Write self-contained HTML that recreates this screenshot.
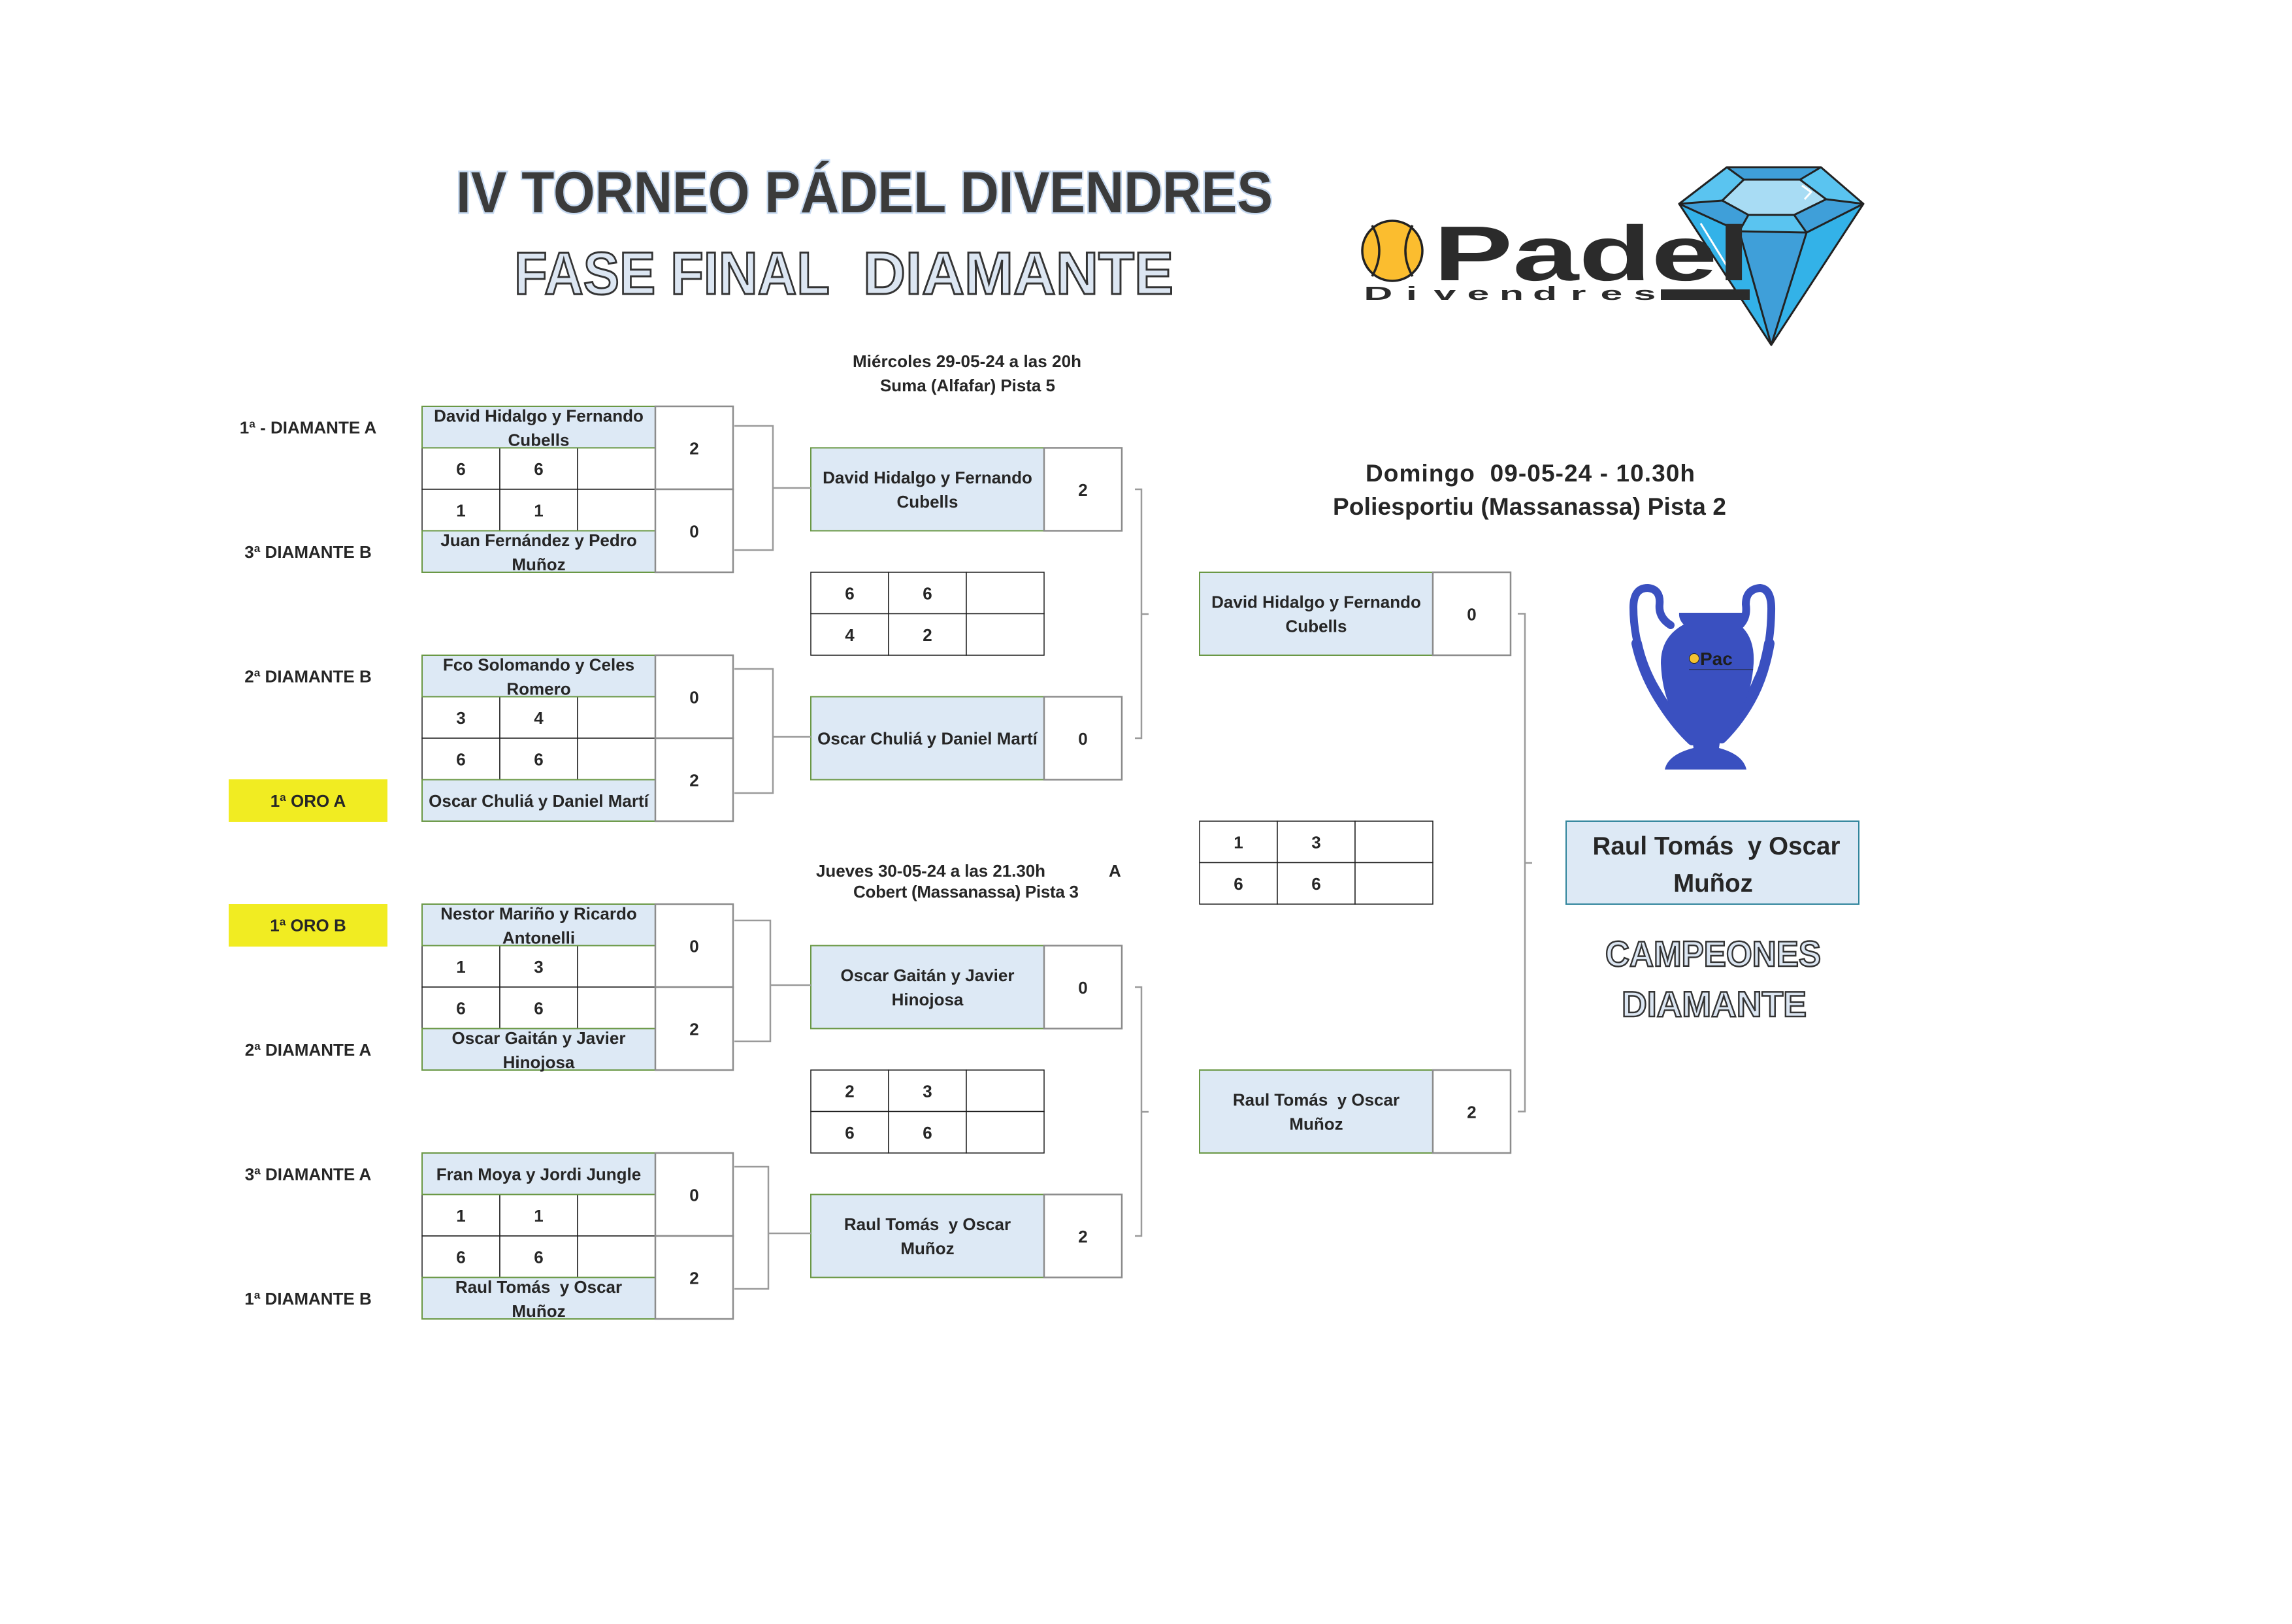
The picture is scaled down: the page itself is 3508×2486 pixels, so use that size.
<!DOCTYPE html>
<html>
<head>
<meta charset="utf-8">
<style>
html,body{margin:0;padding:0;background:#fff;}
body{width:3508px;height:2481px;overflow:hidden;}
svg text{font-family:"Liberation Sans",Arial,sans-serif;font-weight:700;font-size:26px;fill:#262626;}
svg text.c{text-anchor:middle;}
.nm{fill:#dde9f5;stroke:#6a9845;stroke-width:2;}
.st{fill:#fff;stroke:#1f1f1f;stroke-width:1.5;}
.sc{fill:#fff;stroke:#8c8c8c;stroke-width:2.5;}
.ln{fill:none;stroke:#9a9a9a;stroke-width:2.5;}
</style>
</head>
<body>
<svg width="3508" height="2481" viewBox="0 0 3508 2481" xmlns="http://www.w3.org/2000/svg">
<rect x="0" y="0" width="3508" height="2481" fill="#fff"/>

<!-- TITLES -->
<text x="698" y="325" textLength="1250" lengthAdjust="spacingAndGlyphs" style="font-size:89px;fill:#3b3b3b;stroke:#c6d9f0;stroke-width:5;paint-order:stroke;">IV TORNEO PÁDEL DIVENDRES</text>
<text x="787" y="450" textLength="483" lengthAdjust="spacingAndGlyphs" style="font-size:92px;fill:#dce6f2;stroke:#333;stroke-width:3;">FASE FINAL</text>
<text x="1321" y="450" textLength="475" lengthAdjust="spacingAndGlyphs" style="font-size:92px;fill:#dce6f2;stroke:#333;stroke-width:3;">DIAMANTE</text>

<!-- LOGO: diamond -->
<g stroke-linejoin="round">
<polygon points="2643,256 2787,256 2852,312 2711,528 2570,312" fill="#33b2e8"/>
<polygon points="2643,256 2787,256 2852,312 2765,356 2662,354 2570,312" fill="#5ac4f0"/>
<polygon points="2647,258 2783,258 2755,275 2669,275" fill="#3f9fd9"/>
<polygon points="2570,312 2636,307 2676,329 2662,354" fill="#3f9fd9"/>
<polygon points="2852,312 2795,305 2746,329 2765,356" fill="#3f9fd9"/>
<polygon points="2662,354 2765,356 2711,528" fill="#3f9fd9"/>
<polygon points="2669,275 2755,275 2795,305 2746,329 2676,329 2636,307" fill="#a8dcf4" stroke="#222" stroke-width="3"/>
<line x1="2603" y1="342" x2="2649" y2="417" stroke="#fff" stroke-width="3"/>
<polyline points="2758,284 2772,294 2762,305" fill="none" stroke="#fff" stroke-width="3"/>
<g fill="none" stroke="#222" stroke-width="3">
<polygon points="2643,256 2787,256 2852,312 2711,528 2570,312"/>
<line x1="2669" y1="275" x2="2643" y2="256"/>
<line x1="2755" y1="275" x2="2787" y2="256"/>
<line x1="2795" y1="305" x2="2852" y2="312"/>
<line x1="2636" y1="307" x2="2570" y2="312"/>
<line x1="2676" y1="329" x2="2662" y2="354"/>
<line x1="2746" y1="329" x2="2765" y2="356"/>
<polyline points="2570,312 2662,354 2765,356 2852,312"/>
<line x1="2662" y1="354" x2="2711" y2="528"/>
<line x1="2765" y1="356" x2="2711" y2="528"/>
</g>
</g>
<!-- LOGO: ball + text -->
<ellipse cx="2131" cy="384" rx="46" ry="46" fill="#fbbd2f" stroke="#222" stroke-width="3.5"/>
<path d="M2100 345 Q2122 384 2100 423" fill="none" stroke="#222" stroke-width="3.5"/>
<path d="M2162 345 Q2140 384 2162 423" fill="none" stroke="#222" stroke-width="3.5"/>
<text x="2194" y="429" textLength="485" lengthAdjust="spacingAndGlyphs" style="font-size:119px;fill:#2b2b2b;">Padel</text>
<g transform="translate(2084,459) scale(2.1,1)">
<text x="12.1 36.4 60.7 85 109.3 133.6 157.9 182.1 206.4" y="0" style="font-size:29px;font-weight:700;fill:#2b2b2b;text-anchor:middle;">Divendres</text>
</g>
<rect x="2542" y="443" width="136" height="16" fill="#2b2b2b"/>

<!-- LEFT LABELS -->
<rect x="350" y="1193" width="243" height="65" fill="#f1ec22"/>
<rect x="350" y="1384" width="243" height="65" fill="#f1ec22"/>
<text class="c" x="471.5" y="663.25">1ª - DIAMANTE A</text>
<text class="c" x="471.5" y="853.75">3ª DIAMANTE B</text>
<text class="c" x="471.5" y="1044.25">2ª DIAMANTE B</text>
<text class="c" x="471.5" y="1234.75">1ª ORO A</text>
<text class="c" x="471.5" y="1425.25">1ª ORO B</text>
<text class="c" x="471.5" y="1615.75">2ª DIAMANTE A</text>
<text class="c" x="471.5" y="1806.25">3ª DIAMANTE A</text>
<text class="c" x="471.5" y="1996.75">1ª DIAMANTE B</text>

<!-- ROUND 1 : set cells -->
<g class="st">
<rect x="646" y="685.5" width="119" height="63.5"/><rect x="765" y="685.5" width="119" height="63.5"/><rect x="884" y="685.5" width="119" height="63.5"/>
<rect x="646" y="749" width="119" height="63.5"/><rect x="765" y="749" width="119" height="63.5"/><rect x="884" y="749" width="119" height="63.5"/>
<rect x="646" y="1066.5" width="119" height="63.5"/><rect x="765" y="1066.5" width="119" height="63.5"/><rect x="884" y="1066.5" width="119" height="63.5"/>
<rect x="646" y="1130" width="119" height="63.5"/><rect x="765" y="1130" width="119" height="63.5"/><rect x="884" y="1130" width="119" height="63.5"/>
<rect x="646" y="1447.5" width="119" height="63.5"/><rect x="765" y="1447.5" width="119" height="63.5"/><rect x="884" y="1447.5" width="119" height="63.5"/>
<rect x="646" y="1511" width="119" height="63.5"/><rect x="765" y="1511" width="119" height="63.5"/><rect x="884" y="1511" width="119" height="63.5"/>
<rect x="646" y="1828.5" width="119" height="63.5"/><rect x="765" y="1828.5" width="119" height="63.5"/><rect x="884" y="1828.5" width="119" height="63.5"/>
<rect x="646" y="1892" width="119" height="63.5"/><rect x="765" y="1892" width="119" height="63.5"/><rect x="884" y="1892" width="119" height="63.5"/>
<!-- SF sets -->
<rect x="1241" y="876" width="119" height="63.5"/><rect x="1360" y="876" width="119" height="63.5"/><rect x="1479" y="876" width="119" height="63.5"/>
<rect x="1241" y="939.5" width="119" height="63.5"/><rect x="1360" y="939.5" width="119" height="63.5"/><rect x="1479" y="939.5" width="119" height="63.5"/>
<rect x="1241" y="1638" width="119" height="63.5"/><rect x="1360" y="1638" width="119" height="63.5"/><rect x="1479" y="1638" width="119" height="63.5"/>
<rect x="1241" y="1701.5" width="119" height="63.5"/><rect x="1360" y="1701.5" width="119" height="63.5"/><rect x="1479" y="1701.5" width="119" height="63.5"/>
<!-- Final sets -->
<rect x="1836" y="1257" width="119" height="63.5"/><rect x="1955" y="1257" width="119" height="63.5"/><rect x="2074" y="1257" width="119" height="63.5"/>
<rect x="1836" y="1320.5" width="119" height="63.5"/><rect x="1955" y="1320.5" width="119" height="63.5"/><rect x="2074" y="1320.5" width="119" height="63.5"/>
</g>

<!-- name cells -->
<g class="nm">
<rect x="646" y="622" width="357" height="63.5"/><rect x="646" y="812.5" width="357" height="63.5"/>
<rect x="646" y="1003" width="357" height="63.5"/><rect x="646" y="1193.5" width="357" height="63.5"/>
<rect x="646" y="1384" width="357" height="63.5"/><rect x="646" y="1574.5" width="357" height="63.5"/>
<rect x="646" y="1765" width="357" height="63.5"/><rect x="646" y="1955.5" width="357" height="63.5"/>
<rect x="1241" y="685.5" width="357" height="127"/><rect x="1241" y="1066.5" width="357" height="127"/>
<rect x="1241" y="1447.5" width="357" height="127"/><rect x="1241" y="1828.5" width="357" height="127"/>
<rect x="1836" y="876" width="357" height="127"/><rect x="1836" y="1638" width="357" height="127"/>
</g>
<rect x="2397" y="1257" width="448" height="127" fill="#dde9f5" stroke="#31859c" stroke-width="2"/>

<!-- score boxes -->
<g class="sc">
<rect x="1003" y="622" width="119" height="127"/><rect x="1003" y="749" width="119" height="127"/>
<rect x="1003" y="1003" width="119" height="127"/><rect x="1003" y="1130" width="119" height="127"/>
<rect x="1003" y="1384" width="119" height="127"/><rect x="1003" y="1511" width="119" height="127"/>
<rect x="1003" y="1765" width="119" height="127"/><rect x="1003" y="1892" width="119" height="127"/>
<rect x="1598" y="685.5" width="119" height="127"/><rect x="1598" y="1066.5" width="119" height="127"/>
<rect x="1598" y="1447.5" width="119" height="127"/><rect x="1598" y="1828.5" width="119" height="127"/>
<rect x="2193" y="876" width="119" height="127"/><rect x="2193" y="1638" width="119" height="127"/>
</g>

<!-- connectors -->
<g class="ln">
<path d="M1124 652 H1183 V842 H1124 M1183 747 H1241"/>
<path d="M1124 1024 H1183 V1214 H1124 M1183 1128 H1241"/>
<path d="M1124 1409 H1179 V1594 H1124 M1179 1508 H1241"/>
<path d="M1124 1786 H1176 V1973 H1124 M1176 1888 H1241"/>
<path d="M1737 749 H1747 V1130 H1737 M1747 940 H1758"/>
<path d="M1737 1511 H1747 V1892 H1737 M1747 1702 H1758"/>
<path d="M2323 939.5 H2334 V1701.5 H2323 M2334 1321 H2345"/>
</g>

<!-- ROUND 1 TEXT -->
<!-- M1 -->
<text class="c" x="824.5" y="645.25">David Hidalgo y Fernando</text>
<text class="c" x="824.5" y="682.25">Cubells</text>
<text class="c" x="705.5" y="726.75">6</text><text class="c" x="824.5" y="726.75">6</text>
<text class="c" x="705.5" y="790.25">1</text><text class="c" x="824.5" y="790.25">1</text>
<text class="c" x="824.5" y="835.75">Juan Fernández y Pedro</text>
<text class="c" x="824.5" y="872.75">Muñoz</text>
<text class="c" x="1062.5" y="695.5">2</text>
<text class="c" x="1062.5" y="822.5">0</text>
<!-- M2 -->
<text class="c" x="824.5" y="1026.25">Fco Solomando y Celes</text>
<text class="c" x="824.5" y="1063.25">Romero</text>
<text class="c" x="705.5" y="1107.75">3</text><text class="c" x="824.5" y="1107.75">4</text>
<text class="c" x="705.5" y="1171.25">6</text><text class="c" x="824.5" y="1171.25">6</text>
<text class="c" x="824.5" y="1234.75">Oscar Chuliá y Daniel Martí</text>
<text class="c" x="1062.5" y="1076.5">0</text>
<text class="c" x="1062.5" y="1203.5">2</text>
<!-- M3 -->
<text class="c" x="824.5" y="1407.25">Nestor Mariño y Ricardo</text>
<text class="c" x="824.5" y="1444.25">Antonelli</text>
<text class="c" x="705.5" y="1488.75">1</text><text class="c" x="824.5" y="1488.75">3</text>
<text class="c" x="705.5" y="1552.25">6</text><text class="c" x="824.5" y="1552.25">6</text>
<text class="c" x="824.5" y="1597.75">Oscar Gaitán y Javier</text>
<text class="c" x="824.5" y="1634.75">Hinojosa</text>
<text class="c" x="1062.5" y="1457.5">0</text>
<text class="c" x="1062.5" y="1584.5">2</text>
<!-- M4 -->
<text class="c" x="824.5" y="1806.25">Fran Moya y Jordi Jungle</text>
<text class="c" x="705.5" y="1869.75">1</text><text class="c" x="824.5" y="1869.75">1</text>
<text class="c" x="705.5" y="1933.25">6</text><text class="c" x="824.5" y="1933.25">6</text>
<text class="c" x="824.5" y="1978.75">Raul Tomás&#160; y Oscar</text>
<text class="c" x="824.5" y="2015.75">Muñoz</text>
<text class="c" x="1062.5" y="1838.5">0</text>
<text class="c" x="1062.5" y="1965.5">2</text>

<!-- SEMIFINAL HEADERS -->
<text class="c" x="1480" y="562" textLength="350">Miércoles 29-05-24 a las 20h</text>
<text class="c" x="1481" y="599" textLength="268">Suma (Alfafar) Pista 5</text>
<text x="1249" y="1342" textLength="351">Jueves 30-05-24 a las 21.30h</text>
<text x="1697" y="1342">A</text>
<text class="c" x="1478.5" y="1374" textLength="345">Cobert (Massanassa) Pista 3</text>

<!-- SF1 -->
<text class="c" x="1419.5" y="740">David Hidalgo y Fernando</text>
<text class="c" x="1419.5" y="777">Cubells</text>
<text class="c" x="1657.5" y="759">2</text>
<text class="c" x="1300.5" y="917.25">6</text><text class="c" x="1419.5" y="917.25">6</text>
<text class="c" x="1300.5" y="980.75">4</text><text class="c" x="1419.5" y="980.75">2</text>
<text class="c" x="1419.5" y="1139.5">Oscar Chuliá y Daniel Martí</text>
<text class="c" x="1657.5" y="1140">0</text>
<!-- SF2 -->
<text class="c" x="1419.5" y="1502">Oscar Gaitán y Javier</text>
<text class="c" x="1419.5" y="1539">Hinojosa</text>
<text class="c" x="1657.5" y="1521">0</text>
<text class="c" x="1300.5" y="1679.25">2</text><text class="c" x="1419.5" y="1679.25">3</text>
<text class="c" x="1300.5" y="1742.75">6</text><text class="c" x="1419.5" y="1742.75">6</text>
<text class="c" x="1419.5" y="1883">Raul Tomás&#160; y Oscar</text>
<text class="c" x="1419.5" y="1920">Muñoz</text>
<text class="c" x="1657.5" y="1902">2</text>

<!-- FINAL -->
<text class="c" x="2342" y="737" textLength="504" style="font-size:37px;">Domingo&#160; 09-05-24 - 10.30h</text>
<text class="c" x="2341" y="788" textLength="602" style="font-size:37px;">Poliesportiu (Massanassa) Pista 2</text>
<text class="c" x="2014.5" y="930.5">David Hidalgo y Fernando</text>
<text class="c" x="2014.5" y="967.5">Cubells</text>
<text class="c" x="2252.5" y="949.5">0</text>
<text class="c" x="1895.5" y="1298.25">1</text><text class="c" x="2014.5" y="1298.25">3</text>
<text class="c" x="1895.5" y="1361.75">6</text><text class="c" x="2014.5" y="1361.75">6</text>
<text class="c" x="2014.5" y="1692.5">Raul Tomás&#160; y Oscar</text>
<text class="c" x="2014.5" y="1729.5">Muñoz</text>
<text class="c" x="2252.5" y="1711.5">2</text>

<!-- CHAMPION -->
<text class="c" x="2627" y="1308" textLength="379" style="font-size:38.5px;">Raul Tomás&#160; y Oscar</text>
<text class="c" x="2622" y="1365" style="font-size:38.5px;">Muñoz</text>
<text x="2457" y="1479" textLength="330" lengthAdjust="spacingAndGlyphs" style="font-size:55px;fill:#dce6f2;stroke:#333;stroke-width:2.5;">CAMPEONES</text>
<text x="2482" y="1556" textLength="283" lengthAdjust="spacingAndGlyphs" style="font-size:55px;fill:#dce6f2;stroke:#333;stroke-width:2.5;">DIAMANTE</text>

<!-- TROPHY -->
<defs>
<clipPath id="cupclip">
<path d="M2570 938 L2669 938 Q2670 948 2662 956 Q2686 975 2684 1015 Q2680 1085 2634 1125 L2589 1125 Q2545 1090 2542 1015 Q2542 975 2577 956 Q2569 948 2570 938 Z"/>
</clipPath>
</defs>
<g fill="none" stroke="#3a50c0" stroke-linecap="round" stroke-linejoin="round">
<path d="M2557 957 Q2538 945 2540 925 Q2542 902 2522 900 Q2500 900 2500 930 Q2500 990 2530 1047 Q2560 1100 2590 1133" stroke-width="12"/>
<path d="M2505 985 Q2515 1030 2540 1070 Q2565 1110 2590 1133" stroke-width="16"/>
<path d="M2663 957 Q2675 945 2672 925 Q2672 902 2694 900 Q2712 902 2711 935 Q2710 1000 2690 1040 Q2670 1090 2635 1130" stroke-width="12"/>
<path d="M2708 985 Q2700 1030 2684 1062 Q2665 1100 2635 1130" stroke-width="16"/>
</g>
<path d="M2570 938 L2669 938 Q2670 948 2662 956 Q2686 975 2684 1015 Q2680 1085 2634 1125 L2631 1145 Q2668 1155 2673 1178 L2548 1178 Q2553 1155 2592 1145 L2589 1125 Q2545 1090 2542 1015 Q2542 975 2577 956 Q2569 948 2570 938 Z" fill="#3a50c0"/>
<g clip-path="url(#cupclip)">
<circle cx="2593" cy="1008" r="7.5" fill="#f5c230" stroke="#222" stroke-width="1"/>
<text x="2602" y="1018" style="font-size:28px;fill:#1e1e1e;">Pac</text>
<line x1="2585" y1="1025" x2="2690" y2="1025" stroke="#222" stroke-width="1"/>
</g>
</svg>
</body>
</html>
